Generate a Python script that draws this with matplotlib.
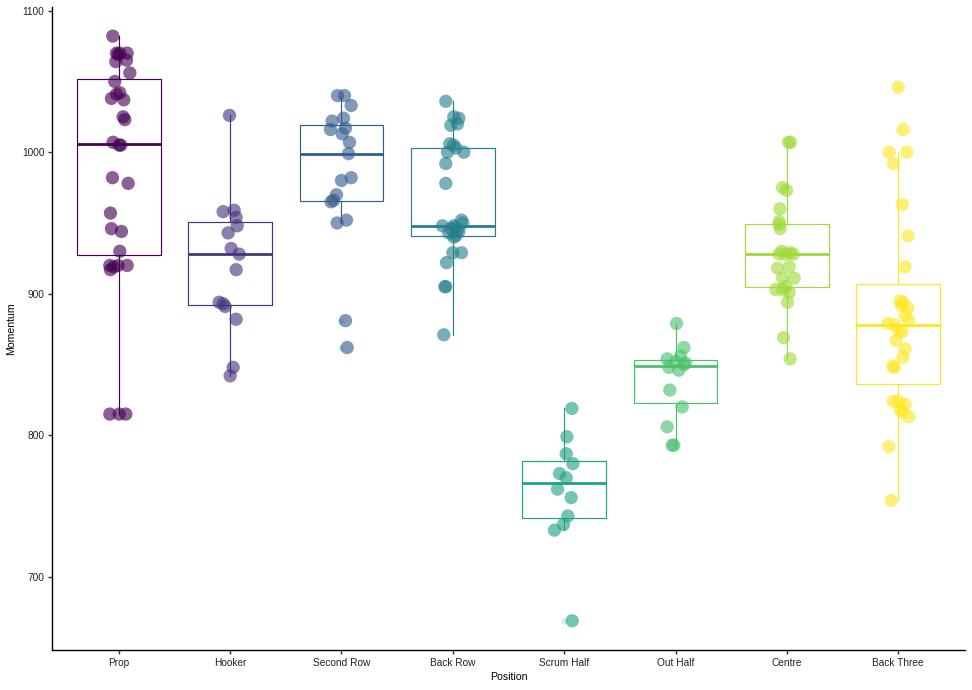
import matplotlib
matplotlib.use("Agg")
import matplotlib.pyplot as plt
import numpy as np

plt.rcParams['font.family'] = ['Liberation Sans', 'DejaVu Sans']

positions = ["Prop", "Hooker", "Second Row", "Back Row",
             "Scrum Half", "Out Half", "Centre", "Back Three"]

# momentum values, one list per position
prop = [1082, 1070, 1070, 1070, 1069, 1064, 1065, 1056, 1050, 1042, 1038, 1037,
        1041, 1025, 1023, 1007, 1005, 1005, 982, 978, 957, 946, 944, 930,
        920, 920, 920, 917, 919, 815, 815, 815]
hooker = [1026, 958, 959, 954, 948, 943, 932, 928, 917, 894, 893, 891, 882, 848, 842]
second_row = [1040, 1040, 1033, 1024, 1022, 1017, 1016, 1013, 1007, 999, 982, 980,
              970, 966, 965, 952, 950, 881, 862]
back_row = [871, 905, 905, 922, 929, 929, 940, 941, 943, 944, 945, 946, 947, 948,
            948, 950, 952, 978, 992, 1000, 1000, 1003, 1005, 1006, 1019, 1020,
            1024, 1025, 1036]
scrum_half = [819, 799, 787, 780, 773, 770, 762, 756, 743, 737, 733, 669]
out_half = [879, 862, 856, 854, 852, 851, 850, 848, 846, 832, 820, 806, 793, 793]
centre = [854, 869, 894, 901, 903, 903, 905, 911, 911, 918, 919, 928, 928, 928,
          929, 930, 946, 949, 951, 960, 973, 975, 1007, 1007]
back_three = [754, 792, 813, 816, 818, 822, 824, 824, 848, 849, 855, 861, 867, 873,
              874, 878, 879, 881, 885, 890, 892, 894, 895, 919, 941, 963, 992,
              1000, 1000, 1016, 1046]

# horizontal jitter of each point (category units)
prop_jit = [-0.054, -0.021, 0.009, 0.075, -0.006, -0.027, 0.069, 0.099, -0.036,
            0.009, -0.066, 0.045, -0.021, 0.039, 0.054, -0.051, 0.003, 0.018,
            -0.057, 0.084, -0.075, -0.066, 0.024, 0.009, -0.081, -0.006, 0.075,
            -0.075, -0.045, -0.081, 0.003, 0.063]
hooker_jit = [-0.006, -0.063, 0.036, 0.054, 0.063, -0.018, 0.009, 0.081, 0.054,
              -0.099, -0.063, -0.045, 0.054, 0.027, 0.0]
second_row_jit = [-0.036, 0.027, 0.087, 0.018, -0.084, 0.036, -0.099, 0.006, 0.072,
                  0.063, 0.087, 0.0, -0.045, -0.072, -0.093, 0.045, -0.039, 0.036,
                  0.051]
back_row_jit = [-0.081, -0.072, -0.063, -0.057, 0.0, 0.078, 0.009, 0.027, -0.036,
                0.054, 0.042, -0.018, 0.018, -0.093, 0.009, 0.09, 0.078, -0.063,
                -0.063, -0.048, 0.099, 0.027, 0.006, -0.027, -0.018, 0.042, 0.054,
                0.009, -0.063]
scrum_half_jit = [0.069, 0.024, 0.018, 0.078, -0.042, 0.018, -0.06, 0.063, 0.033,
                  -0.006, -0.087, 0.072]
out_half_jit = [0.009, 0.075, 0.045, -0.075, 0.0, 0.09, 0.075, -0.06, 0.03, -0.051,
                0.06, -0.075, -0.03, -0.015]
centre_jit = [0.03, -0.03, 0.006, 0.021, -0.039, -0.099, -0.009, 0.066, -0.039,
              -0.084, 0.021, -0.069, -0.009, 0.057, 0.03, -0.045, -0.06, -0.069,
              -0.069, -0.063, -0.003, -0.039, 0.015, 0.033]
back_three_jit = [-0.063, -0.084, 0.097, 0.042, 0.018, 0.063, -0.045, 0.0, -0.036,
                  -0.048, 0.042, 0.063, -0.018, 0.036, 0.006, -0.033, -0.093, 0.096,
                  0.063, 0.087, 0.027, 0.042, 0.018, 0.063, 0.09, 0.036, -0.045,
                  -0.081, 0.078, 0.045, 0.0]

groups = [prop, hooker, second_row, back_row, scrum_half, out_half, centre, back_three]
jitters = [prop_jit, hooker_jit, second_row_jit, back_row_jit,
           scrum_half_jit, out_half_jit, centre_jit, back_three_jit]

colors = ["#440154", "#46337E", "#365C8D", "#277F8E",
          "#1FA187", "#4AC16D", "#9FDA3A", "#FDE725"]

fig = plt.figure(figsize=(9.72, 6.9), dpi=100)
ax = fig.add_axes([0.0535, 0.058, 0.9393, 0.932])

for i, (vals, jit, col) in enumerate(zip(groups, jitters, colors)):
    pos = i + 1
    ax.boxplot([vals], positions=[pos], widths=0.75, whis=1.5,
               showcaps=False, patch_artist=True,
               boxprops=dict(facecolor='white', edgecolor=col, linewidth=0.85),
               whiskerprops=dict(color=col, linewidth=0.85),
               medianprops=dict(color=col, linewidth=2.0),
               flierprops=dict(marker='o', markersize=4.5, markerfacecolor=col,
                               markeredgecolor='none', alpha=0.2),
               zorder=2)
    ax.scatter(pos + np.array(jit), vals, s=92, color=col, alpha=0.62,
               edgecolors='none', zorder=3)

ax.set_xlim(0.4, 8.6)
ax.set_ylim(648.35, 1102.65)
ax.set_xticks(range(1, 9))
ax.set_xticklabels(positions)
ax.set_yticks([700, 800, 900, 1000, 1100])

for side in ['top', 'right']:
    ax.spines[side].set_visible(False)
for side in ['left', 'bottom']:
    ax.spines[side].set_linewidth(1.0)
    ax.spines[side].set_color('black')

ax.tick_params(axis='both', length=3, width=1.0, color='#333333',
               labelsize=7.3, labelcolor='#222222', pad=2.5)
ax.set_xlabel("Position", fontsize=7.6, labelpad=3)
ax.set_ylabel("Momentum", fontsize=7.6, labelpad=4)

fig.savefig("out.png", dpi=100)
